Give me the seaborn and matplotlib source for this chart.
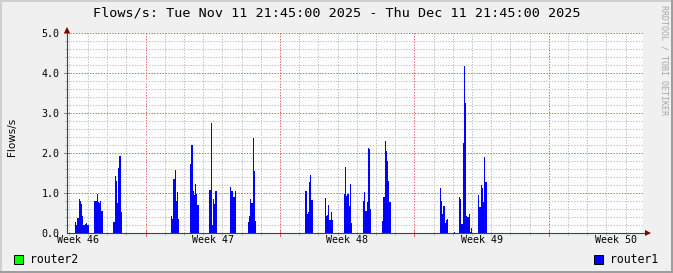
import numpy as np
import pandas as pd
import matplotlib
matplotlib.use("Agg")
import matplotlib.pyplot as plt
import seaborn as sns
from matplotlib.patches import Polygon, Rectangle

# ---------------- data ----------------
range_start = "2025-11-11 21:45"
range_end = "2025-12-11 21:45"
step_minutes = 75

cluster_starts = [
    "2025-11-12 07:45", "2025-11-13 07:30", "2025-11-14 07:15",
    "2025-11-17 07:45", "2025-11-18 07:30", "2025-11-19 07:15",
    "2025-11-20 09:30", "2025-11-21 08:00",
    "2025-11-24 07:15", "2025-11-25 08:15", "2025-11-26 08:00",
    "2025-11-27 07:45", "2025-11-28 07:30",
    "2025-12-01 08:00", "2025-12-02 01:30", "2025-12-02 07:45",
    "2025-12-03 07:30",
]
cluster_values = [
    [0.27, 0.2, 0.38, 0.38, 0.85, 0.8, 0.72, 0.42, 0.2, 0.2, 0.22, 0.24, 0.19, 0.19],
    [0.8, 0.8, 0.8, 0.98, 0.77, 0.74, 0.8, 0.56, 0.56],
    [0.28, 0.28, 1.43, 1.31, 0.76, 1.62, 1.93, 1.93, 0.53],
    [0.43, 0.36, 1.35, 1.35, 1.58, 0.8, 1.02, 0.35],
    [1.73, 2.2, 2.2, 1.05, 0.95, 1.23, 0.98, 0.7, 0.7],
    [1.08, 1.08, 2.75, 0.2, 0.85, 0.73, 1.05, 1.05],
    [1.14, 1.05, 1.05, 0.89, 0.89, 1.05],
    [0.28, 0.43, 0.85, 0.74, 0.74, 2.38, 1.55, 0.3],
    [1.05, 1.05, 0.48, 0.53, 1.27, 1.45, 0.83, 0.83],
    [0.88, 0.43, 0.46, 0.7, 0.33, 0.33, 0.53, 0.33],
    [0.97, 1.65, 0.93, 0.98, 0.98, 0.68, 1.23, 0.24],
    [0.8, 1.02, 0.55, 0.55, 0.77, 2.12, 2.1, 0.6],
    [0.3, 0.9, 0.9, 2.3, 2.05, 1.8, 1.3, 0.78, 0.78],
    [1.13, 0.8, 0.48, 0.68, 0.68, 0.25, 0.32, 0.36],
    [0.03],
    [0.91, 0.84, 0.23, 0.23, 2.26, 4.18, 3.26, 0.42, 0.4, 0.4, 0.48, 0.03, 0.13],
    [0.95, 0.66, 0.66, 1.2, 1.13, 0.78, 1.91, 1.28, 1.28],
]
# weekend with a tiny non-zero rate (thin line on the baseline)
low_start = "2025-11-21 18:00"
low_end = "2025-11-24 07:15"
low_level = 0.012

week_starts = ["2025-11-09", "2025-11-16", "2025-11-23", "2025-11-30", "2025-12-07"]
week_labels = ["Week 46", "Week 47", "Week 48", "Week 49", "Week 50"]
y_ticks = [0.0, 1.0, 2.0, 3.0, 4.0, 5.0]
y_tick_labels = ["0.0", "1.0", "2.0", "3.0", "4.0", "5.0"]
title = "Flows/s: Tue Nov 11 21:45:00 2025 - Thu Dec 11 21:45:00 2025"
series_names = ["router2", "router1"]
series_colors = ["#00FF00", "#0000FF"]

# ---------------- build series ----------------
t0 = pd.Timestamp(range_start)
t1 = pd.Timestamp(range_end)
step = pd.Timedelta(minutes=step_minutes)
n = int((t1 - t0) / step)
vals = np.zeros(n)


def idx(ts):
    return int(round((pd.Timestamp(ts) - t0) / step))


lo0, lo1 = idx(low_start), idx(low_end)
vals[lo0:lo1] = low_level
for s, v in zip(cluster_starts, cluster_values):
    i0 = idx(s)
    vals[i0:i0 + len(v)] = v

step_h = step_minutes / 60.0
hours = np.arange(n) * step_h + step_h / 2
total_h = (t1 - t0) / pd.Timedelta(hours=1)
df = pd.DataFrame({"hours": hours, "flows": vals})


def hrs(ts):
    return (pd.Timestamp(ts) - t0) / pd.Timedelta(hours=1)


# ---------------- style ----------------
BACK = "#F0F0F0"
SHADEA = "#CFCFCF"
SHADEB = "#9E9E9E"
GRID = "#C2C2C2"
MGRID = "#E26464"
AXIS = "#2C4D43"
ARROW = "#7F0000"
MONO = "DejaVu Sans Mono"

W, H = 673, 273
fig = plt.figure(figsize=(W / 100, H / 100), dpi=100, facecolor=BACK)

# frame shading
fig.add_artist(Rectangle((0, 1 - 2 / H), 1, 2 / H, transform=fig.transFigure, color=SHADEA, lw=0))
fig.add_artist(Rectangle((0, 0), 2 / W, 1, transform=fig.transFigure, color=SHADEA, lw=0))
fig.add_artist(Rectangle((0, 0), 1, 2 / H, transform=fig.transFigure, color=SHADEB, lw=0))
fig.add_artist(Rectangle((1 - 2 / W, 0), 2 / W, 1, transform=fig.transFigure, color=SHADEB, lw=0))

ax = fig.add_axes([67 / W, 40 / H, 576 / W, 200 / H])
ax.set_facecolor("white")

sns.histplot(data=df, x="hours", weights="flows", bins=n, binrange=(0, total_h),
             element="bars", fill=True, color=series_colors[1], alpha=1,
             linewidth=0, ax=ax)
for p in ax.patches:
    p.set_zorder(3)

ax.set_xlim(0, total_h)
ax.set_ylim(0, 5)
for sp in ax.spines.values():
    sp.set_visible(False)

px_x = total_h / 576.0   # hours per pixel
px_y = 5.0 / 200.0       # units per pixel

GRID_KW = dict(lw=0.72, dashes=(1.4, 1.4), zorder=1, antialiased=True)

# grid
days = pd.date_range(pd.Timestamp(range_start).normalize() + pd.Timedelta(days=1),
                     t1, freq="D")
sundays = [hrs(w) for w in week_starts if 0 < hrs(w) < total_h]
for d in days:
    h = hrs(d)
    if any(abs(h - s) < 1e-6 for s in sundays):
        continue
    ax.axvline(h, color=GRID, **GRID_KW)
    ax.plot([h, h], [-2 * px_y, 0], color=GRID, lw=0.72, clip_on=False, zorder=4)
for s in sundays:
    ax.axvline(s, color=MGRID, **GRID_KW)
    ax.plot([s, s], [-3 * px_y, 2 * px_y], color=MGRID, lw=0.72, clip_on=False, zorder=4)

for k in range(1, 26):
    y = k * 0.2
    if k % 5 == 0:
        ax.axhline(y, color=MGRID, **GRID_KW)
        ax.plot([-3 * px_x, 2 * px_x], [y, y], color=MGRID, lw=0.72, clip_on=False, zorder=4)
    else:
        ax.axhline(y, color=GRID, **GRID_KW)
        ax.plot([-2 * px_x, 0], [y, y], color=GRID, lw=0.72, clip_on=False, zorder=4)

# axes with arrows
ax.plot([0, total_h + 2 * px_x], [0, 0], color=AXIS, lw=0.8, clip_on=False, zorder=5)
ax.plot([0, 0], [0, 5.0], color=AXIS, lw=0.8, clip_on=False, zorder=5)
ax.add_patch(Polygon([(total_h + 2 * px_x, -3 * px_y), (total_h + 2 * px_x, 3 * px_y),
                      (total_h + 8 * px_x, 0)], closed=True, color=ARROW, lw=0,
                     clip_on=False, zorder=6))
ax.add_patch(Polygon([(-3 * px_x, 5.0), (3 * px_x, 5.0), (0, 5.0 + 6 * px_y)],
                     closed=True, color=ARROW, lw=0, clip_on=False, zorder=6))

# ticks / labels
label_pos = [hrs(w) + 84 for w in week_starts]
ax.set_xticks(label_pos)
ax.set_xticklabels(week_labels, fontfamily=MONO, fontsize=7.2)
ax.set_yticks(y_ticks)
ax.set_yticklabels(y_tick_labels, fontfamily=MONO, fontsize=7.2)
ax.tick_params(axis="x", length=0, pad=1.5)
ax.tick_params(axis="y", length=0, pad=5.5)
ax.set_xlabel("")
ax.set_ylabel("")

fig.text(12 / W, 1 - 137 / H, "Flows/s", rotation=90, ha="center", va="center",
         fontfamily="DejaVu Sans", fontsize=7.5)
fig.text(336.5 / W, 1 - 13.5 / H, title, ha="center", va="center",
         fontfamily=MONO, fontsize=9.7)
fig.text(664 / W, 1 - 60 / H, "RRDTOOL / TOBI OETIKER", rotation=-90, ha="center",
         va="center", fontfamily=MONO, fontsize=6, color="#A8A8A8")

# legend
for name, col, sx in zip(series_names, series_colors, [14, 594]):
    fig.add_artist(Rectangle((sx / W, 1 - 264 / H), 9 / W, 9 / H, transform=fig.transFigure,
                             facecolor=col, edgecolor="black", lw=0.7))
    fig.text((sx + 16) / W, 1 - 259.5 / H, name, ha="left", va="center",
             fontfamily=MONO, fontsize=8.3)

fig.savefig("out.png", dpi=100, facecolor=BACK)
